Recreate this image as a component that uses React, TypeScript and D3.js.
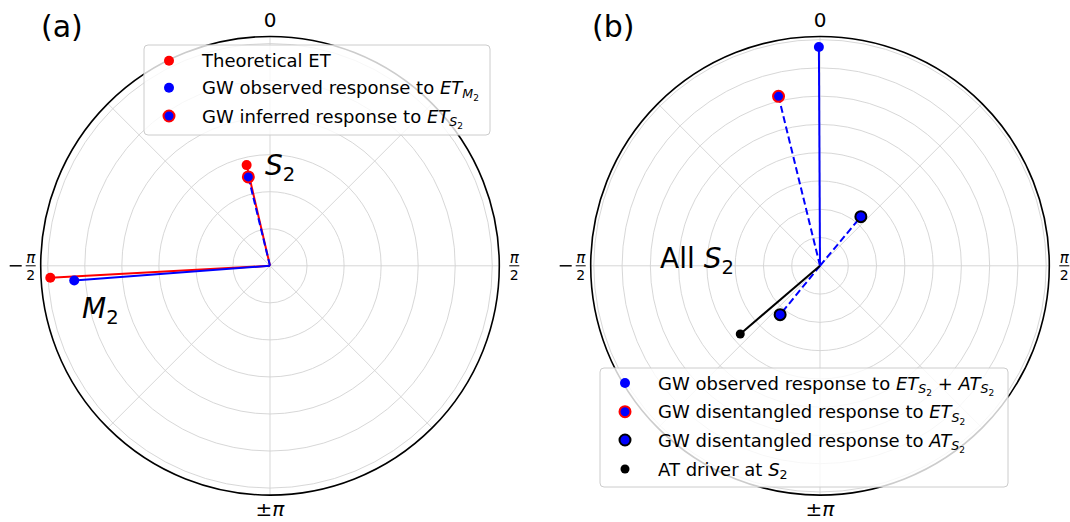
import React, { useRef, useEffect } from 'react';
import * as d3 from 'd3';

const W = 1070;
const H = 522;
const FONT = 'DejaVu Sans';

// phases in radians (0 at top, clockwise), amplitudes in ring units
// panel (a)
const etTheoreticalTheta = [-1.625, -0.228];
const etTheoreticalR = [5.94, 2.79];
const gwObservedM2Theta = [-1.646];
const gwObservedM2R = [5.3];
const gwInferredS2Theta = [-0.239];
const gwInferredS2R = [2.47];
const ringsA = [1, 2, 3, 4, 5, 6];
const rMaxA = 6.19;

// panel (b)
const gwObservedS2Theta = [-0.005];
const gwObservedS2R = [7.74];
const gwEtS2Theta = [-0.24];
const gwEtS2R = [6.17];
const gwAtS2Theta = [0.694, -2.457];
const gwAtS2R = [2.26, 2.23];
const atDriverTheta = [-2.278];
const atDriverR = [3.71];
const ringsB = [1, 2, 3, 4, 5, 6, 7, 8];
const rMaxB = 8.11;

const spokeAngles = [0, 45, 90, 135, 180, 225, 270, 315];

type Part = { t: string; it?: boolean; lvl?: number };

function mathText(g: any, x: number, y: number, size: number, parts: Part[], anchor = 'start') {
  const text = g.append('text')
    .attr('x', x).attr('y', y)
    .attr('font-size', size)
    .attr('font-family', FONT)
    .attr('text-anchor', anchor)
    .style('white-space', 'pre');
  let cur = 0;
  parts.forEach(p => {
    const lvl = p.lvl || 0;
    const off = [0, 0.22, 0.36][lvl] * size;
    const fs = [1, 0.7, 0.5][lvl] * size;
    text.append('tspan')
      .attr('dy', off - cur)
      .attr('font-size', fs)
      .attr('font-style', p.it ? 'italic' : 'normal')
      .text(p.t);
    cur = off;
  });
  return text;
}

// tick labels: 0, pi/2, ±pi, -pi/2
function tickLabel(g: any, x: number, y: number, kind: string) {
  if (kind === '0' || kind === 'pm') {
    const t = g.append('text')
      .attr('x', x).attr('y', kind === '0' ? y + 7 : y + 4)
      .attr('text-anchor', 'middle')
      .attr('font-family', FONT)
      .attr('font-size', 20)
      .text(kind === '0' ? '0' : '±');
    if (kind === 'pm') t.append('tspan').attr('font-style', 'italic').text('π');
    return;
  }
  const neg = kind === '-half';
  const fx = neg ? x + 8 : x;
  if (neg) {
    g.append('line')
      .attr('x1', x - 13).attr('x2', x - 1)
      .attr('y1', y).attr('y2', y)
      .attr('stroke', 'black').attr('stroke-width', 1.5);
  }
  g.append('line')
    .attr('x1', fx - 5).attr('x2', fx + 5)
    .attr('y1', y).attr('y2', y)
    .attr('stroke', 'black').attr('stroke-width', 1);
  g.append('text')
    .attr('x', fx).attr('y', y - 3)
    .attr('text-anchor', 'middle')
    .attr('font-family', FONT).attr('font-style', 'italic')
    .attr('font-size', 15).text('π');
  g.append('text')
    .attr('x', fx).attr('y', y + 14)
    .attr('text-anchor', 'middle')
    .attr('font-family', FONT)
    .attr('font-size', 14).text('2');
}

function drawMarker(g: any, x: number, y: number, kind: string) {
  const c = g.append('circle').attr('cx', x).attr('cy', y);
  if (kind === 'red') c.attr('r', 5).attr('fill', '#ff0000');
  else if (kind === 'blue') c.attr('r', 5).attr('fill', '#0000ff');
  else if (kind === 'black') c.attr('r', 4.5).attr('fill', 'black');
  else if (kind === 'redEdge') c.attr('r', 5.5).attr('fill', '#0000ff').attr('stroke', '#ff0000').attr('stroke-width', 2);
  else if (kind === 'blackEdge') c.attr('r', 5.5).attr('fill', '#0000ff').attr('stroke', 'black').attr('stroke-width', 2);
}

function polarFrame(svg: any, cx: number, cy: number, rScale: any, rings: number[], rMax: number) {
  const g = svg.append('g').attr('transform', `translate(${cx},${cy})`);
  g.selectAll('.ring').data(rings).enter().append('circle')
    .attr('r', (d: number) => rScale(d))
    .attr('fill', 'none').attr('stroke', '#d3d3d3').attr('stroke-width', 0.9);
  g.selectAll('.spoke').data(spokeAngles).enter().append('line')
    .attr('x1', 0).attr('y1', 0)
    .attr('x2', (d: number) => d3.pointRadial(d * Math.PI / 180, rScale(rMax))[0])
    .attr('y2', (d: number) => d3.pointRadial(d * Math.PI / 180, rScale(rMax))[1])
    .attr('stroke', '#d3d3d3').attr('stroke-width', 0.9);
  g.append('circle').attr('r', rScale(rMax)).attr('fill', 'none')
    .attr('stroke', 'black').attr('stroke-width', 1.6);
  const lr = rScale(rMax) + 17;
  const p0 = d3.pointRadial(0, lr);
  tickLabel(g, p0[0], p0[1], '0');
  const p1 = d3.pointRadial(Math.PI / 2, lr - 2);
  tickLabel(g, p1[0], p1[1], 'half');
  const p2 = d3.pointRadial(Math.PI, lr);
  tickLabel(g, p2[0], p2[1], 'pm');
  const p3 = d3.pointRadial(-Math.PI / 2, lr + 1);
  tickLabel(g, p3[0], p3[1], '-half');
  return g;
}

function spokes(g: any, rScale: any, thetas: number[], rs: number[], color: string, dashed: boolean) {
  thetas.forEach((t, i) => {
    const p = d3.pointRadial(t, rScale(rs[i]));
    g.append('line')
      .attr('x1', 0).attr('y1', 0).attr('x2', p[0]).attr('y2', p[1])
      .attr('stroke', color).attr('stroke-width', 2)
      .attr('stroke-dasharray', dashed ? '7,3.5' : null);
  });
}

function points(g: any, rScale: any, thetas: number[], rs: number[], kind: string) {
  thetas.forEach((t, i) => {
    const p = d3.pointRadial(t, rScale(rs[i]));
    drawMarker(g, p[0], p[1], kind);
  });
}

function legend(svg: any, x: number, y: number, w: number, h: number, rows: { kind: string; parts: Part[] }[], rowY: number[]) {
  const g = svg.append('g');
  g.append('rect')
    .attr('x', x).attr('y', y).attr('width', w).attr('height', h)
    .attr('rx', 4).attr('fill', 'white').attr('fill-opacity', 0.8)
    .attr('stroke', '#cccccc').attr('stroke-width', 1);
  rows.forEach((row, i) => {
    drawMarker(g, x + 25, rowY[i], row.kind);
    mathText(g, x + 58, rowY[i] + 6.5, 18, row.parts);
  });
}

const App = () => {
  const svgRef = useRef<SVGSVGElement>(null);

  useEffect(() => {
    const svg = d3.select(svgRef.current);
    svg.selectAll('*').remove();

    const R = 229.3;
    const cy = 265.8;

    // panel (a)
    const rA = d3.scaleLinear().domain([0, rMaxA]).range([0, R]);
    const gA = polarFrame(svg, 270, cy, rA, ringsA, rMaxA);
    spokes(gA, rA, etTheoreticalTheta, etTheoreticalR, '#ff0000', false);
    spokes(gA, rA, gwObservedM2Theta, gwObservedM2R, '#0000ff', false);
    spokes(gA, rA, gwInferredS2Theta, gwInferredS2R, '#0000ff', true);
    points(gA, rA, etTheoreticalTheta, etTheoreticalR, 'red');
    points(gA, rA, gwObservedM2Theta, gwObservedM2R, 'blue');
    points(gA, rA, gwInferredS2Theta, gwInferredS2R, 'redEdge');

    svg.append('text').attr('x', 41).attr('y', 37)
      .attr('font-family', FONT).attr('font-size', 30).text('(a)');
    mathText(svg, 265, 175, 28, [{ t: 'S', it: true }, { t: '2', lvl: 1 }]);
    mathText(svg, 82, 318, 28, [{ t: 'M', it: true }, { t: '2', lvl: 1 }]);

    legend(svg, 144, 45, 346, 90, [
      { kind: 'red', parts: [{ t: 'Theoretical ET' }] },
      { kind: 'blue', parts: [{ t: 'GW observed response to ' }, { t: 'ET', it: true }, { t: 'M', it: true, lvl: 1 }, { t: '2', lvl: 2 }] },
      { kind: 'redEdge', parts: [{ t: 'GW inferred response to ' }, { t: 'ET', it: true }, { t: 'S', it: true, lvl: 1 }, { t: '2', lvl: 2 }] },
    ], [60.7, 87.8, 116]);

    // panel (b)
    const rB = d3.scaleLinear().domain([0, rMaxB]).range([0, R]);
    const gB = polarFrame(svg, 820, cy, rB, ringsB, rMaxB);
    spokes(gB, rB, gwObservedS2Theta, gwObservedS2R, '#0000ff', false);
    spokes(gB, rB, gwEtS2Theta, gwEtS2R, '#0000ff', true);
    spokes(gB, rB, gwAtS2Theta, gwAtS2R, '#0000ff', true);
    spokes(gB, rB, atDriverTheta, atDriverR, 'black', false);
    points(gB, rB, gwObservedS2Theta, gwObservedS2R, 'blue');
    points(gB, rB, gwEtS2Theta, gwEtS2R, 'redEdge');
    points(gB, rB, gwAtS2Theta, gwAtS2R, 'blackEdge');
    points(gB, rB, atDriverTheta, atDriverR, 'black');

    svg.append('text').attr('x', 592).attr('y', 37)
      .attr('font-family', FONT).attr('font-size', 30).text('(b)');
    mathText(svg, 660, 268, 28, [{ t: 'All ' }, { t: 'S', it: true }, { t: '2', lvl: 1 }]);

    legend(svg, 600, 368, 408, 119, [
      { kind: 'blue', parts: [{ t: 'GW observed response to ' }, { t: 'ET', it: true }, { t: 'S', it: true, lvl: 1 }, { t: '2', lvl: 2 }, { t: ' + ', lvl: 0 }, { t: 'AT', it: true }, { t: 'S', it: true, lvl: 1 }, { t: '2', lvl: 2 }] },
      { kind: 'redEdge', parts: [{ t: 'GW disentangled response to ' }, { t: 'ET', it: true }, { t: 'S', it: true, lvl: 1 }, { t: '2', lvl: 2 }] },
      { kind: 'blackEdge', parts: [{ t: 'GW disentangled response to ' }, { t: 'AT', it: true }, { t: 'S', it: true, lvl: 1 }, { t: '2', lvl: 2 }] },
      { kind: 'black', parts: [{ t: 'AT driver at ' }, { t: 'S', it: true }, { t: '2', lvl: 1 }] },
    ], [383, 411.7, 440, 469]);
  }, []);

  return (
    <svg
      ref={svgRef}
      width={W}
      height={H}
      viewBox={`0 0 ${W} ${H}`}
      style={{ position: 'absolute', left: 0, top: 0, background: 'white' }}
    ></svg>
  );
};

export default App;
